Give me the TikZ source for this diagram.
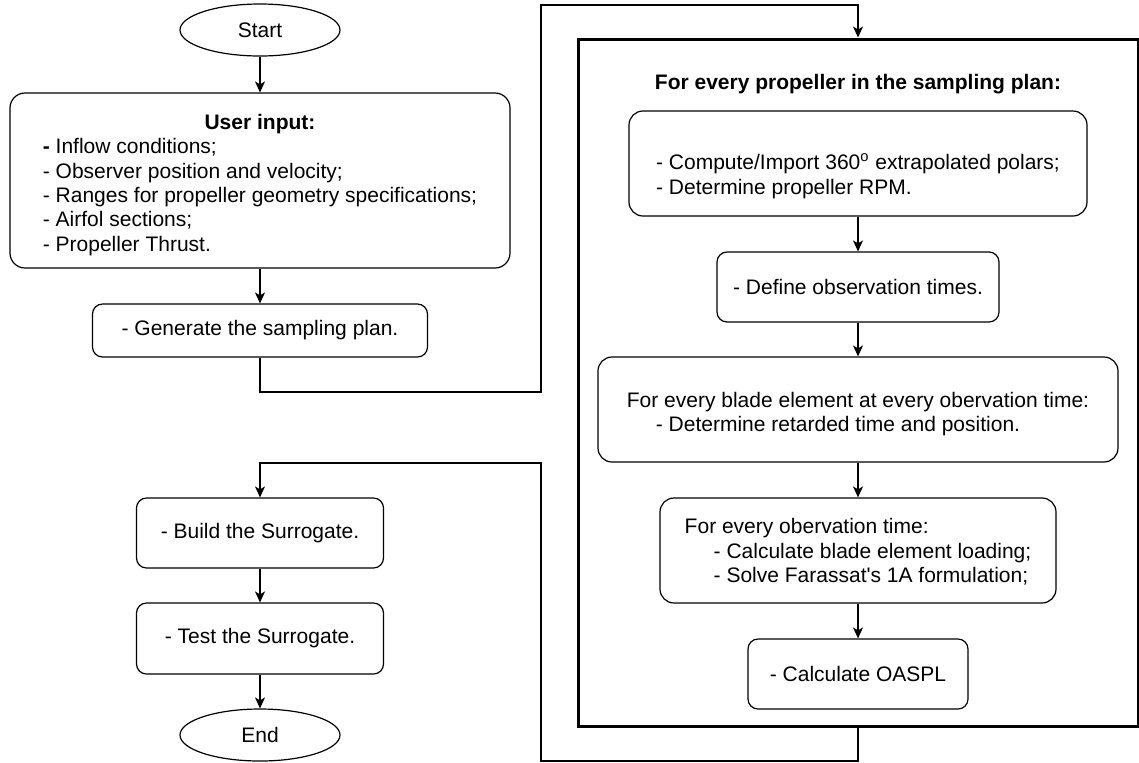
\documentclass[tikz,border=0pt]{standalone}
\usepackage{fontspec}
\setmainfont{Liberation Sans}
\usetikzlibrary{shapes.geometric,arrows.meta}
\tikzset{
  procbox/.style={draw, rectangle, rounded corners=5pt, line width=0.6pt, inner sep=0pt, align=left},
  termnode/.style={draw, ellipse, line width=0.6pt, inner sep=0pt, minimum width=80pt, minimum height=26pt},
  loopbox/.style={draw, rectangle, line width=1.5pt, inner sep=0pt},
  flowline/.style={line width=0.6pt, -{Stealth[length=5.5pt,width=5pt,inset=1.5pt]}},
}

\begin{document}
\begin{tikzpicture}[x=0.5pt, y=-0.5pt, font=\fontsize{10.5}{12.15}\selectfont]
            \useasboundingbox (0,0) rectangle (1139,762);
            % left column
            \node[termnode]                                                           (start)  at (260.0, 30.0) {Start};
            \node[procbox, align=center, minimum width=250pt, minimum height=87.5pt, rounded corners=7.5pt] (input) at (260.0,180.5)
                {\rule{0pt}{13.4pt}\textbf{User input:}\\\begin{tabular}[t]{@{}l@{}}\textbf{-} Inflow conditions;\\- Observer position and velocity;\\- Ranges for propeller geometry specifications;\\- Airfol sections;\\- Propeller Thrust.\end{tabular}};
            \node[procbox, minimum width=167.5pt, minimum height=26.5pt]             (sample) at (260.0,330.5) {- Generate the sampling plan.};
            \node[procbox, minimum width=123.5pt, minimum height=35pt]               (build)  at (260.0,533.0) {- Build the Surrogate.};
            \node[procbox, minimum width=123.5pt, minimum height=35.5pt]             (test)   at (260.0,638.5) {- Test the Surrogate.};
            \node[termnode]                                                           (end)    at (260.0,735.0) {End};
            % loop over the sampling plan
            \node[loopbox, minimum width=280pt, minimum height=343.5pt]              (loop)   at (858.0,382.5) {};
            \node[font=\fontsize{10.5}{12.15}\selectfont\bfseries]                   (ttl)    at (858.0, 84.0) {For every propeller in the sampling plan:};
            \node[procbox, minimum width=229pt, minimum height=52.5pt, rounded corners=7pt] (polars) at (858.0,163.5)
                {\strut\\- Compute/Import 360\textsuperscript{o} extrapolated polars;\\- Determine propeller RPM.};
            \node[procbox, minimum width=141pt, minimum height=35pt]                 (times)  at (858.0,287.0) {- Define observation times.};
            \node[procbox, minimum width=260pt, minimum height=52.5pt, rounded corners=7pt] (retard) at (858.0,409.5)
                {\rule{0pt}{12.2pt}For every blade element at every obervation time:\\\hspace*{14.5pt}- Determine retarded time and position.};
            \node[procbox, minimum width=198pt, minimum height=52.5pt, rounded corners=7pt] (farassat) at (858.0,550.5)
                {\rule{0pt}{9pt}For every obervation time:\\\hspace*{14.5pt}- Calculate blade element loading;\\\hspace*{14.5pt}- Solve Farassat\textquotesingle s 1A formulation;};
            \node[procbox, minimum width=110pt, minimum height=35pt]                 (oaspl)  at (858.0,674.0) {- Calculate OASPL};
            % connectors
            \coordinate (up1) at (541,392);
            \coordinate (up2) at (541,5);
            \coordinate (dn1) at (541,761);
            \coordinate (dn2) at (541,463);
            \draw[flowline] (start)    -- (input);
            \draw[flowline] (input)    -- (sample);
            \draw[flowline] (sample)   |- (up1) -- (up2) -| (loop);
            \draw[flowline] (polars)   -- (times);
            \draw[flowline] (times)    -- (retard);
            \draw[flowline] (retard)   -- (farassat);
            \draw[flowline] (farassat) -- (oaspl);
            \draw[flowline] (loop)     |- (dn1) -- (dn2) -| (build);
            \draw[flowline] (build)    -- (test);
            \draw[flowline] (test)     -- (end);
        \end{tikzpicture}
\end{document}
